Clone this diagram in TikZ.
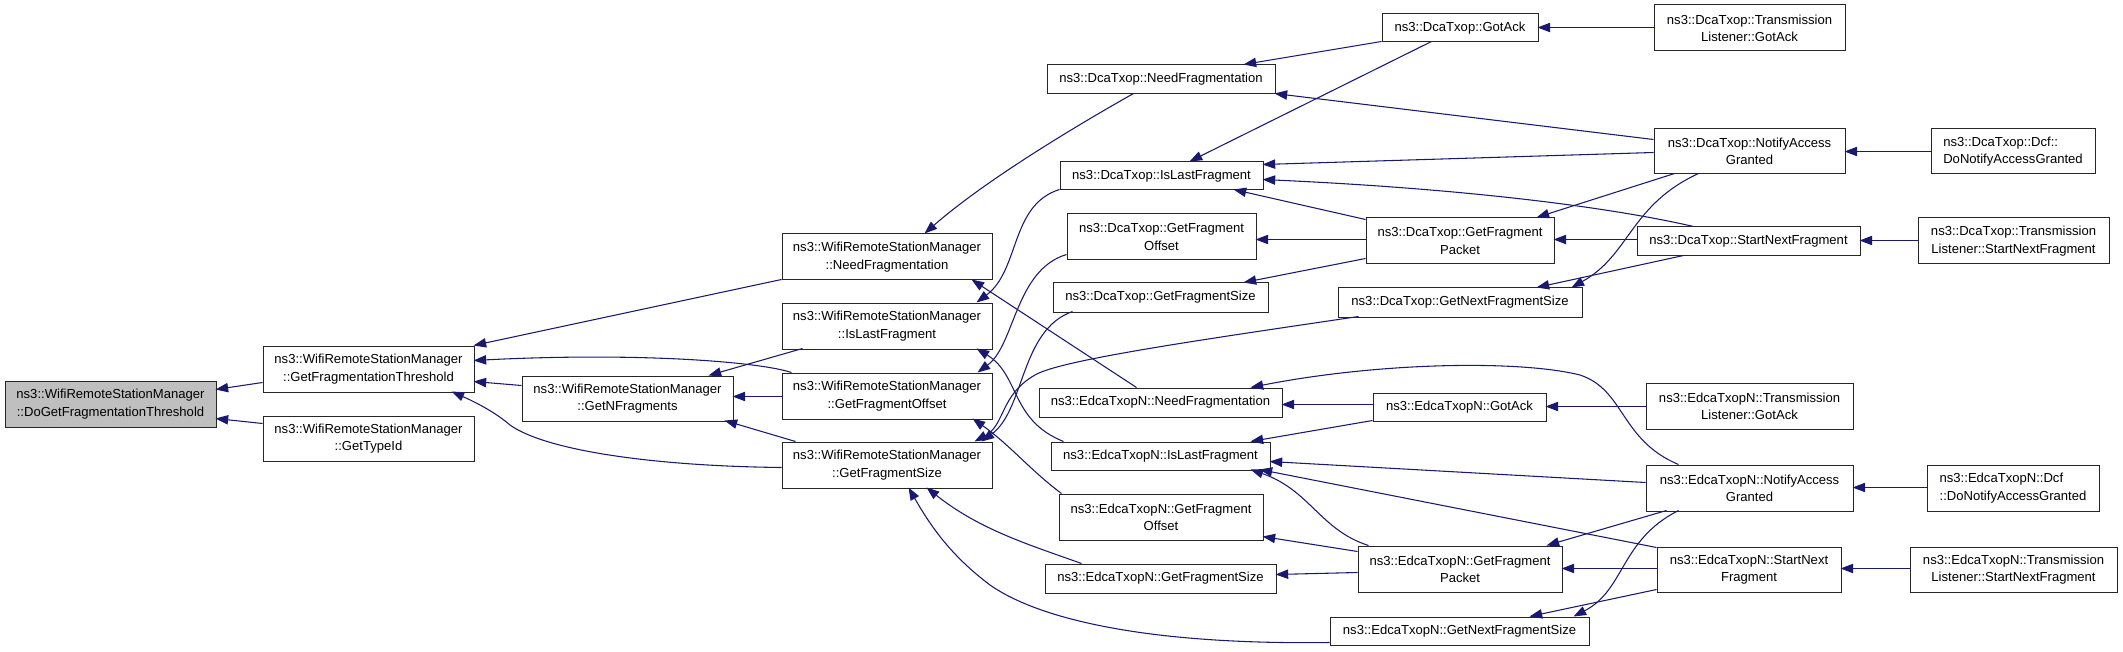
\documentclass[tikz,border=0pt]{standalone}
\usepackage{fontspec}
\setmainfont{Liberation Sans}
\usetikzlibrary{arrows.meta}
\definecolor{edgec}{HTML}{191970}
\definecolor{grayfill}{HTML}{BFBFBF}
\tikzset{
  box/.style={draw=black!85, line width=0.75pt, inner sep=0pt, align=center,
    font=\fontsize{9.8pt}{13pt}\selectfont},
  edge/.style={draw=edgec, line width=0.8pt, -{Triangle[length=9.5pt,width=7pt]}}
}
\newcommand\bx[7][]{%
  \pgfmathsetmacro\bw{(#5-#3)*0.75}%
  \pgfmathsetmacro\bh{(#6-#4)*0.75}%
  \node[box,#1, minimum width=\bw pt, minimum height=\bh pt] (#2) at ({(#3+#5)/2},{(#4+#6)/2}) {#7};}
\begin{document}
\begin{tikzpicture}[x=0.75pt,y=-0.75pt]
\useasboundingbox (0,0) rectangle (2123,652);
% nodes
\bx[fill=grayfill]{A}{5}{381}{216}{427}{ns3::WifiRemoteStationManager\\::DoGetFragmentationThreshold}
\bx{B}{263}{346}{474}{392}{ns3::WifiRemoteStationManager\\::GetFragmentationThreshold}
\bx{C}{263}{416}{474}{461}{ns3::WifiRemoteStationManager\\::GetTypeId}
\bx{D}{522}{376}{733}{421}{ns3::WifiRemoteStationManager\\::GetNFragments}
\bx{E}{782}{234}{992}{280}{ns3::WifiRemoteStationManager\\::NeedFragmentation}
\bx{F}{782}{303}{992}{349}{ns3::WifiRemoteStationManager\\::IsLastFragment}
\bx{G}{782}{373}{992}{419}{ns3::WifiRemoteStationManager\\::GetFragmentOffset}
\bx{H}{782}{442}{992}{488}{ns3::WifiRemoteStationManager\\::GetFragmentSize}
\bx{I}{1047}{65}{1275}{94}{ns3::DcaTxop::NeedFragmentation}
\bx{J}{1382}{14}{1538}{42}{ns3::DcaTxop::GotAck}
\bx{K}{1060}{162}{1263}{190}{ns3::DcaTxop::IsLastFragment}
\bx{L}{1067}{214}{1256}{260}{ns3::DcaTxop::GetFragment\\Offset}
\bx{M}{1366}{218}{1554}{264}{ns3::DcaTxop::GetFragment\\Packet}
\bx{N}{1053}{283}{1268}{312}{ns3::DcaTxop::GetFragmentSize}
\bx{O}{1338}{288}{1582}{317}{ns3::DcaTxop::GetNextFragmentSize}
\bx{P}{1039}{388}{1282}{417}{ns3::EdcaTxopN::NeedFragmentation}
\bx{Q}{1373}{393}{1546}{421}{ns3::EdcaTxopN::GotAck}
\bx{R}{1051}{442}{1270}{470}{ns3::EdcaTxopN::IsLastFragment}
\bx{S}{1059}{494}{1263}{540}{ns3::EdcaTxopN::GetFragment\\Offset}
\bx{T}{1045}{564}{1276}{593}{ns3::EdcaTxopN::GetFragmentSize}
\bx{U}{1358}{546}{1562}{592}{ns3::EdcaTxopN::GetFragment\\Packet}
\bx{V}{1330}{617}{1589}{645}{ns3::EdcaTxopN::GetNextFragmentSize}
\bx{W}{1654}{5}{1845}{51}{ns3::DcaTxop::Transmission\\Listener::GotAck}
\bx{X}{1654}{129}{1845}{174}{ns3::DcaTxop::NotifyAccess\\Granted}
\bx[align=left]{Y}{1931}{129}{2095}{174}{ns3::DcaTxop::Dcf::\\DoNotifyAccessGranted}
\bx{Z}{1637}{227}{1860}{256}{ns3::DcaTxop::StartNextFragment}
\bx{AA}{1918}{218}{2109}{264}{ns3::DcaTxop::Transmission\\Listener::StartNextFragment}
\bx{AB}{1646}{383}{1853}{429}{ns3::EdcaTxopN::Transmission\\Listener::GotAck}
\bx{AC}{1646}{465}{1853}{511}{ns3::EdcaTxopN::NotifyAccess\\Granted}
\bx[align=left]{AD}{1927}{465}{2099}{511}{ns3::EdcaTxopN::Dcf\\::DoNotifyAccessGranted}
\bx{AE}{1657}{547}{1841}{592}{ns3::EdcaTxopN::StartNext\\Fragment}
\bx{AF}{1910}{547}{2117}{592}{ns3::EdcaTxopN::Transmission\\Listener::StartNextFragment}
% edges
\draw[edge] ([shift={(0,37)}]B.north west) -- ([shift={(211,9)}]A.north west);
\draw[edge] ([shift={(0,8)}]C.north west) -- ([shift={(211,38)}]A.north west);
\draw[edge] ([shift={(0,46)}]E.north west) -- ([shift={(211,0)}]B.north west);
\draw[edge] ([shift={(10,0)}]G.north west) .. controls (760,362) and (640,352) .. ([shift={(211,15)}]B.north west);
\draw[edge] ([shift={(0,10)}]D.north west) -- ([shift={(211,36)}]B.north west);
\draw[edge] ([shift={(0,26)}]H.north west) .. controls (650,466) and (545,450) .. (510,425) .. controls (495,412) and (475,402) .. ([shift={(189,46)}]B.north west);
\draw[edge] ([shift={(21,46)}]F.north west) -- ([shift={(187,0)}]D.north west);
\draw[edge] ([shift={(0,24)}]G.north west) -- ([shift={(211,21)}]D.north west);
\draw[edge] ([shift={(14,0)}]H.north west) -- ([shift={(203,45)}]D.north west);
\draw[edge] ([shift={(87,29)}]I.north west) .. controls (1060,135) and (980,185) .. ([shift={(143,0)}]E.north west);
\draw[edge] ([shift={(98,0)}]P.north west) -- ([shift={(190,46)}]E.north west);
\draw[edge] ([shift={(0,28)}]K.north west) .. controls (1010,205) and (1020,270) .. ([shift={(195,0)}]F.north west);
\draw[edge] ([shift={(13,0)}]R.north west) .. controls (1010,420) and (1020,375) .. ([shift={(195,46)}]F.north west);
\draw[edge] ([shift={(0,41)}]L.north west) .. controls (1015,270) and (1015,345) .. ([shift={(196,0)}]G.north west);
\draw[edge] ([shift={(3,0)}]S.north west) .. controls (1030,470) and (1010,445) .. ([shift={(191,46)}]G.north west);
\draw[edge] ([shift={(20,29)}]N.north west) .. controls (1020,330) and (1025,410) .. ([shift={(200,0)}]H.north west);
\draw[edge] ([shift={(21,29)}]O.north west) .. controls (1200,340) and (1060,360) .. (1035,375) .. controls (1000,395) and (1005,425) .. ([shift={(193,0)}]H.north west);
\draw[edge] ([shift={(37,0)}]T.north west) .. controls (1030,545) and (980,530) .. ([shift={(145,46)}]H.north west);
\draw[edge] ([shift={(0,26)}]V.north west) .. controls (1150,645) and (1040,620) .. (990,585) .. controls (950,555) and (930,525) .. ([shift={(127,46)}]H.north west);
\draw[edge] ([shift={(0,28)}]J.north west) -- ([shift={(197,0)}]I.north west);
\draw[edge] ([shift={(50,28)}]J.north west) -- ([shift={(130,0)}]K.north west);
\draw[edge] ([shift={(0,11)}]X.north west) -- ([shift={(228,29)}]I.north west);
\draw[edge] ([shift={(0,24)}]X.north west) -- ([shift={(203,3)}]K.north west);
\draw[edge] ([shift={(57,0)}]Z.north west) .. controls (1600,205) and (1450,188) .. ([shift={(203,18)}]K.north west);
\draw[edge] ([shift={(0,2)}]M.north west) -- ([shift={(174,28)}]K.north west);
\draw[edge] ([shift={(0,22)}]M.north west) -- ([shift={(189,26)}]L.north west);
\draw[edge] ([shift={(0,41)}]M.north west) -- ([shift={(191,0)}]N.north west);
\draw[edge] ([shift={(21,45)}]X.north west) -- ([shift={(171,0)}]M.north west);
\draw[edge] ([shift={(0,13)}]Z.north west) -- ([shift={(188,22)}]M.north west);
\draw[edge] ([shift={(45,45)}]X.north west) .. controls (1630,205) and (1630,255) .. ([shift={(234,0)}]O.north west);
\draw[edge] ([shift={(47,29)}]Z.north west) -- ([shift={(199,0)}]O.north west);
\draw[edge] ([shift={(0,23)}]W.north west) -- ([shift={(156,14)}]J.north west);
\draw[edge] ([shift={(0,23)}]Y.north west) -- ([shift={(191,23)}]X.north west);
\draw[edge] ([shift={(0,23)}]AA.north west) -- ([shift={(223,14)}]Z.north west);
\draw[edge] ([shift={(0,12)}]Q.north west) -- ([shift={(243,17)}]P.north west);
\draw[edge] ([shift={(0,28)}]Q.north west) -- ([shift={(200,0)}]R.north west);
\draw[edge] ([shift={(33,0)}]AC.north west) .. controls (1620,440) and (1625,390) .. (1580,375) .. controls (1520,360) and (1380,362) .. ([shift={(212,0)}]P.north west);
\draw[edge] ([shift={(0,18)}]AC.north west) -- ([shift={(219,20)}]R.north west);
\draw[edge] ([shift={(0,1)}]AE.north west) -- ([shift={(209,28)}]R.north west);
\draw[edge] ([shift={(11,0)}]U.north west) .. controls (1320,530) and (1310,490) .. ([shift={(200,28)}]R.north west);
\draw[edge] ([shift={(0,6)}]U.north west) -- ([shift={(204,43)}]S.north west);
\draw[edge] ([shift={(0,27)}]U.north west) -- ([shift={(231,11)}]T.north west);
\draw[edge] ([shift={(21,46)}]AC.north west) -- ([shift={(189,0)}]U.north west);
\draw[edge] ([shift={(0,22)}]AE.north west) -- ([shift={(204,23)}]U.north west);
\draw[edge] ([shift={(33,46)}]AC.north west) .. controls (1620,540) and (1625,590) .. ([shift={(244,0)}]V.north west);
\draw[edge] ([shift={(0,43)}]AE.north west) -- ([shift={(200,0)}]V.north west);
\draw[edge] ([shift={(0,24)}]AB.north west) -- ([shift={(173,14)}]Q.north west);
\draw[edge] ([shift={(0,23)}]AD.north west) -- ([shift={(207,23)}]AC.north west);
\draw[edge] ([shift={(0,22)}]AF.north west) -- ([shift={(184,22)}]AE.north west);
\end{tikzpicture}
\end{document}
